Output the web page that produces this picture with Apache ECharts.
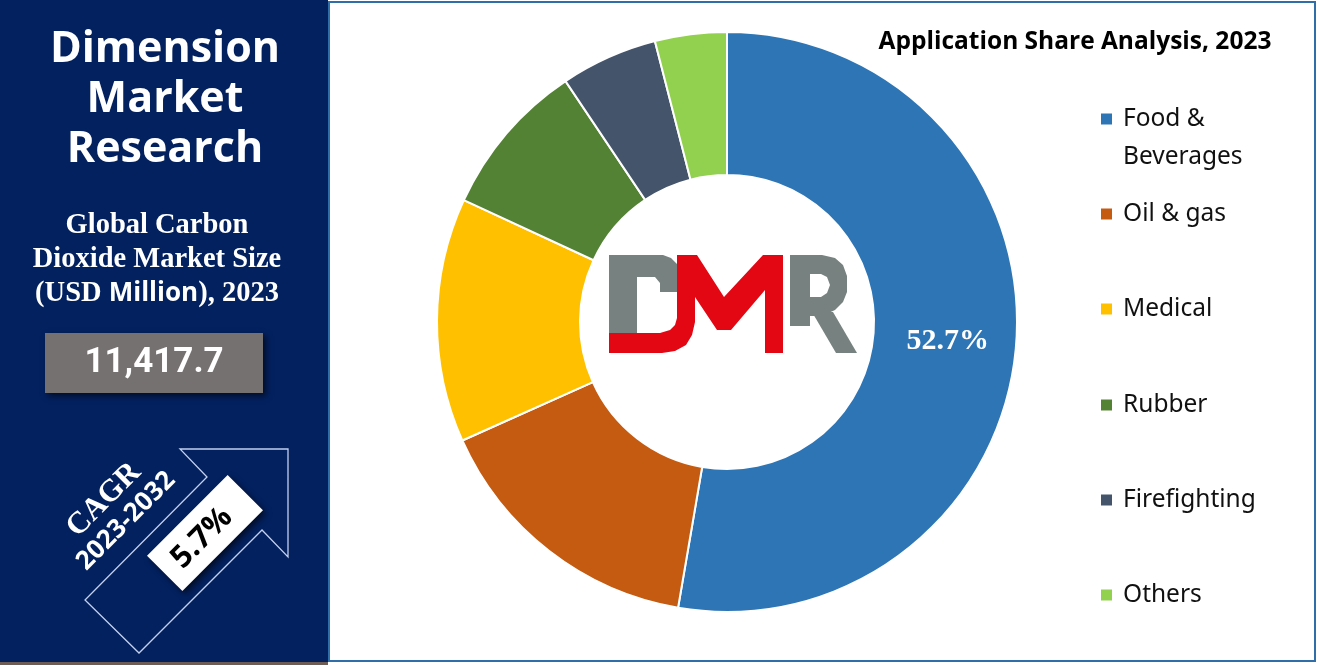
<!DOCTYPE html>
<html>
<head>
<meta charset="utf-8">
<script src="https://cdn.jsdelivr.net/npm/echarts@6/dist/echarts.min.js"></script>
<style>
html,body{margin:0;padding:0;background:#fff;}
#chart{width:1317px;height:665px;}
</style>
</head>
<body>
<div id="chart"></div>
<script>
// ---- data ----
const categories = ['Food & Beverages', 'Oil & gas', 'Medical', 'Rubber', 'Firefighting', 'Others'];
const shares = [52.7, 15.6, 13.6, 8.7, 5.4, 4.0];
const legendLabels = ['\nFood &\nBeverages', 'Oil & gas', 'Medical', 'Rubber', 'Firefighting', 'Others'];
const colors = ['#2e75b6', '#c55a11', '#ffc000', '#548235', '#44546a', '#92d050'];
const titleText = 'Application Share Analysis, 2023';
const marketSize = '11,417.7';
const cagrValue = '5.7%';
const cagrPeriod = '2023-2032';

const chart = echarts.init(document.getElementById('chart'), null, {renderer: 'canvas'});

const legendCenters = [119, 214, 309, 405, 500, 595];
const legends = categories.map((c, i) => {
  const first = i === 0;
  return {
    data: [c],
    orient: 'vertical',
    left: 1099,
    top: first ? legendCenters[i] - 57 : legendCenters[i] - 19,
    icon: 'rect',
    itemWidth: 13,
    itemHeight: 13,
    selectedMode: false,
    padding: 0,
    formatter: () => legendLabels[i],
    textStyle: {
      fontFamily: 'Noto Sans',
      fontSize: 24.5,
      color: '#111',
      lineHeight: 38,
      padding: [0, 0, 0, 5]
    }
  };
});

const navy = '#03215f';

const option = {
  animation: false,
  color: colors,
  legend: legends,
  graphic: [
    // left panel
    {type: 'rect', z: 0, shape: {x: 0, y: 0, width: 328, height: 662}, style: {fill: navy}},
    {type: 'rect', z: 0, shape: {x: 0, y: 662, width: 328, height: 3}, style: {fill: '#6e5d55'}},
    // right panel border
    {type: 'rect', z: 0, shape: {x: 329, y: 2, width: 986, height: 659}, style: {fill: 'none', stroke: '#2f6ea8', lineWidth: 2}},
    // brand
    {type: 'text', z: 5, x: 165, y: 100, style: {
      text: 'Dimension\nMarket\nResearch', fill: '#fff', font: 'bold 43px "Open Sans"',
      align: 'center', verticalAlign: 'middle', lineHeight: 50
    }},
    // market size caption
    {type: 'text', z: 5, x: 157, y: 260, style: {
      text: 'Global Carbon\nDioxide Market Size\n(USD {b|Million}), 2023', fill: '#fff',
      font: 'bold 28.5px "Liberation Serif"', align: 'center', verticalAlign: 'middle', lineHeight: 34,
      rich: {b: {font: 'bold 26px "Open Sans"', fill: '#fff', lineHeight: 34}}
    }},
    // value box
    {type: 'rect', z: 4, shape: {x: 45, y: 333, width: 218, height: 60},
      style: {fill: '#767171', shadowBlur: 6, shadowOffsetX: 3, shadowOffsetY: 3, shadowColor: 'rgba(0,0,0,0.6)'}},
    {type: 'text', z: 5, x: 154, y: 363, style: {
      text: marketSize, fill: '#fff', font: 'bold 35px Roboto', align: 'center', verticalAlign: 'middle'
    }},
    // arrow outline
    {type: 'polygon', z: 4, shape: {points: [[288,449],[180,449],[207,477],[85,600],[139,653],[262,530],[288,557]]},
      style: {fill: 'none', stroke: '#c3d0ee', lineWidth: 1.3}},
    // CAGR box
    {type: 'rect', z: 5, x: 205, y: 533, rotation: Math.PI / 4,
      shape: {x: -57, y: -25, width: 114, height: 50},
      style: {fill: '#fff', shadowBlur: 6, shadowOffsetX: 3, shadowOffsetY: 3, shadowColor: 'rgba(0,0,0,0.6)'}},
    {type: 'text', z: 6, x: 202, y: 538, rotation: Math.PI / 4, style: {
      text: cagrValue, fill: '#000', font: 'bold 31px "Open Sans"', align: 'center', verticalAlign: 'middle'
    }},
    {type: 'text', z: 6, x: 104, y: 500, rotation: Math.PI / 4, style: {
      text: 'CAGR', fill: '#fff', font: 'bold 31px "Liberation Serif"', align: 'center', verticalAlign: 'middle'
    }},
    {type: 'text', z: 6, x: 126, y: 521, rotation: Math.PI / 4, style: {
      text: cagrPeriod, fill: '#fff', font: 'bold 26px "Open Sans"', align: 'center', verticalAlign: 'middle'
    }},
    // title
    {type: 'text', z: 5, x: 1075, y: 42, style: {
      text: titleText, fill: '#000', font: 'bold 24.5px "Open Sans"', align: 'center', verticalAlign: 'middle'
    }},
    // DMR logo (decoration)
    {type: 'polygon', z: 10, shape: {points: [[609,255],[663,255],[671,258],[677,264],[677,292],[660,292],[660,283],[655,277],[637,277],[637,333],[609,333]]},
      style: {fill: '#77817f'}},
    {type: 'polygon', z: 11, shape: {points: [[677,255],[697,255],[724,297],[763,255],[783,255],[783,353],[765,353],[765,290],[731,330],[717,330],[695,297],[695,322],[692,335],[686,345],[675,351],[662,353],[609,353],[609,333],[660,333],[670,330],[675,325],[677,318]]},
      style: {fill: '#e30613'}},
    {type: 'polygon', z: 10, shape: {points: [[790,255],[822,255],[835,258],[843,265],[847,276],[847,292],[843,302],[835,310],[822,316],[810,316],[810,326],[790,326]]},
      style: {fill: '#77817f'}},
    {type: 'polygon', z: 10, shape: {points: [[812,312],[833,312],[857,353],[836,353]]},
      style: {fill: '#77817f'}},
    {type: 'polygon', z: 12, shape: {points: [[810,274],[821,274],[827,277],[830,285],[827,293],[821,297],[810,297]]},
      style: {fill: '#fff'}}
  ],
  series: [{
    type: 'pie',
    center: [727, 322],
    radius: [147, 290],
    startAngle: 90,
    clockwise: true,
    avoidLabelOverlap: false,
    emphasis: {disabled: true},
    itemStyle: {borderColor: '#fff', borderWidth: 2},
    label: {show: false},
    labelLine: {show: false},
    data: categories.map((c, i) => ({
      name: c,
      value: shares[i],
      label: i === 0 ? {
        show: true, position: 'inside', formatter: '{c}%',
        color: '#fff', fontFamily: 'Liberation Serif', fontWeight: 'bold', fontSize: 30
      } : {show: false}
    }))
  }]
};
chart.setOption(option);
</script>
</body>
</html>
